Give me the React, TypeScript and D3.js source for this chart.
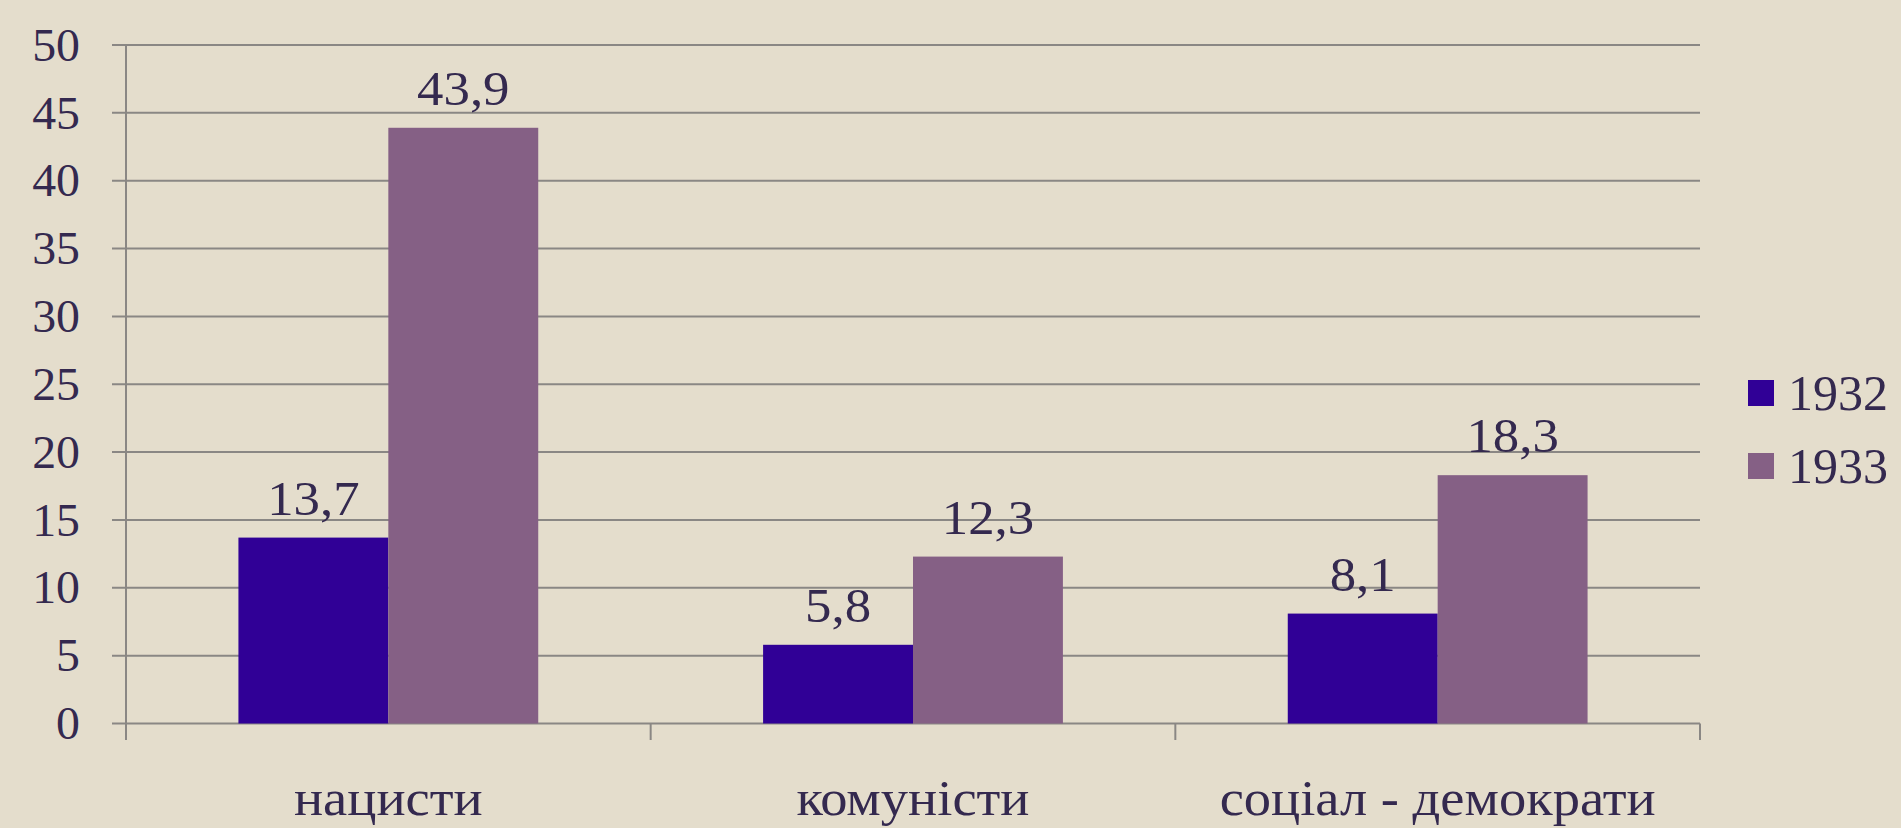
import { useEffect, useRef } from 'react';
import * as d3 from 'd3';

const categories = ['нацисти', 'комуністи', 'соціал - демократи'];
const years = ['1932', '1933'];
const values1932 = [13.7, 5.8, 8.1];
const values1933 = [43.9, 12.3, 18.3];
const yTicks = [0, 5, 10, 15, 20, 25, 30, 35, 40, 45, 50];

const [width, height] = [1901, 828];
const colors = ['#300096', '#856085'];
const textColor = '#34294f';
const gridColor = '#8a8784';
const font = '"Liberation Serif", "DejaVu Serif", serif';

function App() {
    const node = useRef<SVGSVGElement>(null);
    useEffect(() => {
        if (!node.current) return;
        const svg = d3.select(node.current);
        svg.selectAll('*').remove();

        svg.append('rect').attr('width', width).attr('height', height).attr('fill', '#e4ddcc');

        const x = d3.scaleBand().domain(categories).range([126, 1700]).padding(0);
        const inner = d3.scaleBand().domain(years).range([0, x.bandwidth()])
            .paddingInner(0).paddingOuter(0.75);
        const y = d3.scaleLinear().domain([0, 50]).range([723.5, 45]);

        // gridlines + y labels
        const g = svg.append('g');
        g.selectAll('line.grid').data(yTicks).enter().append('line')
            .attr('x1', 112).attr('x2', 1700)
            .attr('y1', d => y(d)).attr('y2', d => y(d))
            .attr('stroke', gridColor).attr('stroke-width', 2);
        g.selectAll('text.ytick').data(yTicks).enter().append('text')
            .attr('transform', d => `translate(80,${y(d)}) scale(1.04,1)`)
            .attr('dy', '0.34em')
            .attr('text-anchor', 'end').attr('font-size', 46)
            .attr('font-family', font).attr('fill', textColor)
            .text(d => d);

        // axes
        g.append('line').attr('x1', 126).attr('x2', 126).attr('y1', y(50)).attr('y2', 740)
            .attr('stroke', gridColor).attr('stroke-width', 2);
        const bounds = [...categories.map(c => x(c) as number), 1700];
        g.selectAll('line.xtick').data(bounds).enter().append('line')
            .attr('x1', d => d).attr('x2', d => d).attr('y1', y(0)).attr('y2', 740)
            .attr('stroke', gridColor).attr('stroke-width', 2);

        const series = [values1932, values1933];
        series.forEach((vals, si) => {
            const yr = years[si];
            svg.append('g').selectAll('rect').data(vals).enter().append('rect')
                .attr('x', (d, i) => (x(categories[i]) as number) + (inner(yr) as number))
                .attr('width', inner.bandwidth())
                .attr('y', d => y(d))
                .attr('height', d => y(0) - y(d))
                .attr('fill', colors[si]);
            svg.append('g').selectAll('text').data(vals).enter().append('text')
                .attr('transform', (d, i) => {
                    const cx = (x(categories[i]) as number) + (inner(yr) as number) + inner.bandwidth() / 2;
                    return `translate(${cx},${y(d) - 23}) scale(1.1,1)`;
                })
                .attr('text-anchor', 'middle').attr('font-size', 48)
                .attr('font-family', font).attr('fill', textColor)
                .text(d => String(d).replace('.', ','));
        });

        // category labels
        svg.append('g').selectAll('text').data(categories).enter().append('text')
            .attr('transform', d => `translate(${(x(d) as number) + x.bandwidth() / 2},815) scale(1.09,1)`)
            .attr('text-anchor', 'middle').attr('font-size', 50)
            .attr('font-family', font).attr('fill', textColor)
            .text(d => d);

        // legend
        const legend = svg.append('g').selectAll('g').data(years).enter().append('g')
            .attr('transform', (d, i) => `translate(1748,${380 + i * 73})`);
        legend.append('rect').attr('width', 26).attr('height', 26).attr('fill', (d, i) => colors[i]);
        legend.append('text').attr('x', 40).attr('y', 13).attr('dy', '0.34em')
            .attr('font-size', 50).attr('font-family', font).attr('fill', textColor)
            .text(d => d);
    }, [node]);

    return (
        <div style={{ position: 'absolute', left: 0, top: 0 }}>
            <svg ref={node} width={width} height={height} style={{ display: 'block' }}></svg>
        </div>
    );
}

export default App;
